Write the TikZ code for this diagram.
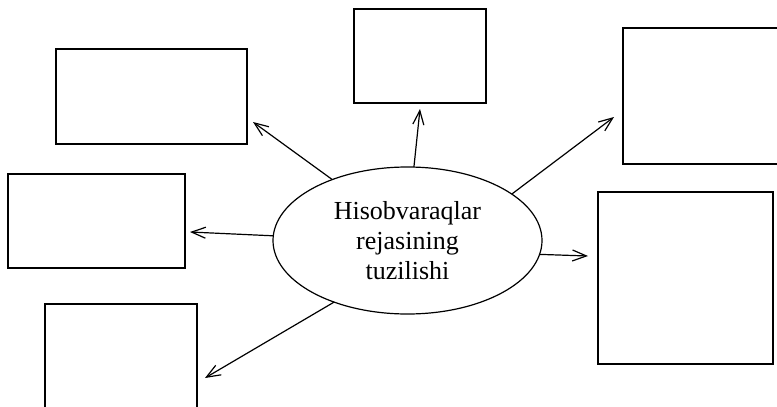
\documentclass[tikz,border=0pt]{standalone}
\usepackage{fontspec}
\setmainfont{Liberation Serif}
\usetikzlibrary{shapes.geometric,arrows.meta}
\begin{document}
\begin{tikzpicture}[x=1pt,y=-1pt,
  box/.style={draw, line width=1.2pt, inner sep=0pt, outer sep=0pt, anchor=north west},
  hub/.style={draw, ellipse, line width=1.2pt, inner sep=0pt, outer sep=0pt,
    minimum width=269pt, minimum height=147pt, align=center,
    font=\fontsize{26}{30}\selectfont},
  link/.style={line width=1.2pt, -{Straight Barb[length=14pt,width=11pt,line width=1.2pt]}}]
  \useasboundingbox (0,0) rectangle (777,407);
  \clip (0,0) rectangle (777,407);

  % empty boxes around the centre
  \node[box, minimum width=191pt, minimum height=95pt]  (b1) at (56,49)  {};
  \node[box, minimum width=132pt, minimum height=94pt]  (b2) at (354,9)  {};
  \node[box, minimum width=180pt, minimum height=136pt] (b3) at (623,28) {};
  \node[box, minimum width=177pt, minimum height=94pt]  (b4) at (8,174)  {};
  \node[box, minimum width=175pt, minimum height=172pt] (b5) at (598,192) {};
  \node[box, minimum width=152pt, minimum height=120pt] (b6) at (45,304) {};

  % central ellipse
  \node[hub] (c) at (407.5,240.5) {Hisobvaraqlar\\rejasining\\tuzilishi};

  % arrow tips
  \coordinate (t1) at (253,122);
  \coordinate (t2) at (420,109);
  \coordinate (t3) at (614,117);
  \coordinate (t4) at (190,232);
  \coordinate (t5) at (588,256);
  \coordinate (t6) at (205,378);

  \draw[link] (c.141.7) -- (t1);
  \draw[link] (c.85) -- (t2);
  \draw[link] (c.24.2) -- (t3);
  \draw[link] (c.178) -- (t4);
  \draw[link] (c.-6.8) -- (t5);
  \draw[link] (c.-140) -- (t6);
\end{tikzpicture}
\end{document}
